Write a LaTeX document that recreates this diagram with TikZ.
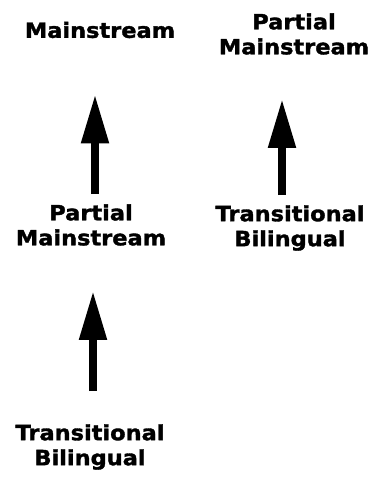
\documentclass[tikz,border=0pt]{standalone}
\usepackage{fontspec}
\setmainfont{DejaVu Sans}
\newfontfamily\heavyfont[FakeStretch=1.07,BoldFeatures={FakeBold=1.6}]{DejaVu Sans}
\usetikzlibrary{arrows.meta}

\begin{document}
\begin{tikzpicture}[x=1pt,y=-1pt,
	label node/.style={align=center,inner sep=0pt,font=\heavyfont\fontsize{21}{25}\selectfont\bfseries},
	up arrow/.style={line width=8pt,-{Triangle[length=49pt,width=26pt]}}]
	\useasboundingbox (0,0) rectangle (371,478);
	
	\node[label node] (ms1) at (100,30) {Mainstream};
	\node[label node] (pm2) at (294,34) {Partial\\Mainstream};
	\node[label node] (pm1) at (91,225) {Partial\\Mainstream};
	\node[label node] (tb2) at (290,228) {Transitional\\Bilingual};
	\node[label node] (tb1) at (90,447) {Transitional\\Bilingual};
	
	\draw[up arrow, shorten <=10pt, shorten >=56pt] ([xshift=4pt]pm1.north) -- ([xshift=4pt]pm1.north |- ms1.south);
	\draw[up arrow, shorten <=10pt, shorten >=44pt] ([xshift=-8pt]tb2.north) -- ([xshift=-8pt]tb2.north |- pm2.south);
	\draw[up arrow, shorten <=33pt, shorten >=45pt] ([xshift=3pt]tb1.north) -- ([xshift=3pt]tb1.north |- pm1.south);
\end{tikzpicture}
\end{document}
